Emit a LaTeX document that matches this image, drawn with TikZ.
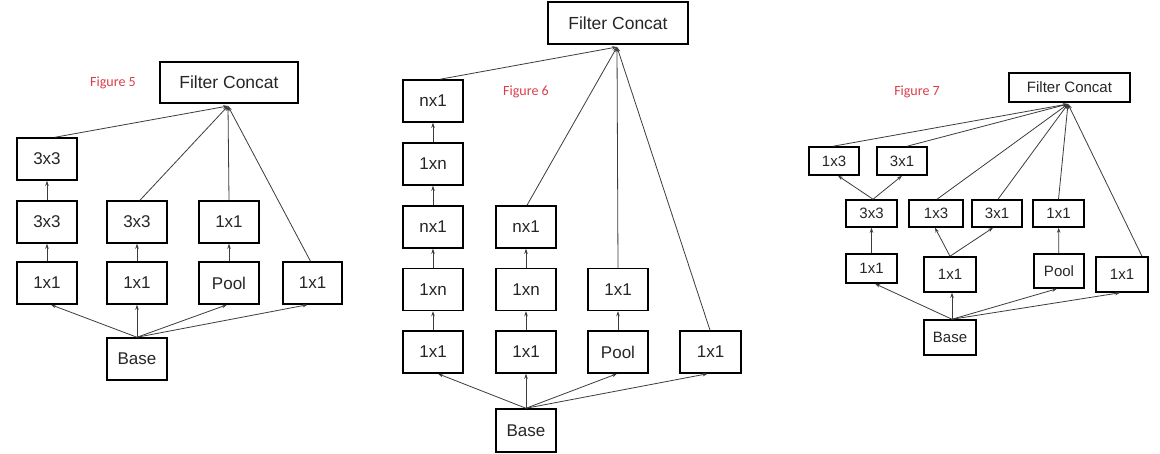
\documentclass[tikz,border=0pt]{standalone}
\usepackage{fontspec}
\setmainfont{Liberation Sans}
\newfontfamily\labfont{Carlito}
\usetikzlibrary{arrows.meta}
\definecolor{figred}{RGB}{218,62,74}
\definecolor{conn}{RGB}{60,60,60}
\tikzset{
  box/.style={draw, line width=1.5pt, inner sep=0pt, text=black!85},
  fivebox/.style={box, minimum width=60pt, minimum height=42pt, font=\fontsize{17}{20}\selectfont},
  sixbox/.style={box, minimum width=60pt, minimum height=42pt, font=\fontsize{17}{20}\selectfont},
  sevenbox/.style={box, minimum width=51pt, minimum height=28pt, font=\fontsize{15}{18}\selectfont},
  figlab/.style={text=figred, font=\labfont\fontsize{14}{16}\selectfont},
  conn/.style={draw=conn, line width=0.8pt, -{Stealth[length=5pt,width=3.5pt]}},
}
\begin{document}
\begin{tikzpicture}[x=1pt,y=-1pt]
\useasboundingbox (0,0) rectangle (1160,453);
\fill[white] (0,0) rectangle (1160,453);

% ---------------- Figure 5 ----------------
\node[figlab] (lab5) at (113,83) {Figure 5};
\node[box, minimum width=138pt, minimum height=41pt, font=\fontsize{17.5}{20}\selectfont] (fc5) at (229,82.5) {Filter Concat};
\coordinate (p5) at (228,106);
\node[fivebox] (a1) at (47,159) {3x3};
\node[fivebox] (a2) at (47,222) {3x3};
\node[fivebox] (a3) at (47,283) {1x1};
\node[fivebox] (b2) at (137,222) {3x3};
\node[fivebox] (b3) at (137,283) {1x1};
\node[fivebox] (c2) at (229,222) {1x1};
\node[fivebox] (c3) at (229,283) {Pool};
\node[fivebox, minimum width=59pt] (d3) at (312.5,283) {1x1};
\node[fivebox] (base5) at (137,359) {Base};

\draw[conn] (base5.north) -- ([xshift=4pt]a3.south);
\draw[conn] (base5.north) -- (b3.south);
\draw[conn] (base5.north) -- ([xshift=-2pt]c3.south);
\draw[conn] (base5.north) -- ([xshift=-5pt]d3.south);
\draw[conn] (a3) -- (a2);
\draw[conn] (a2) -- (a1);
\draw[conn] (b3) -- (b2);
\draw[conn] (c3) -- (c2);
\draw[conn] ([xshift=8pt]a1.north) -- (p5);
\draw[conn] ([xshift=3pt]b2.north) -- (p5);
\draw[conn] (c2.north) -- (p5);
\draw[conn] ([xshift=-2pt]d3.north) -- (p5);

% ---------------- Figure 6 ----------------
\node[figlab] (lab6) at (526,92) {Figure 6};
\node[box, minimum width=140pt, minimum height=42pt, font=\fontsize{17.5}{20}\selectfont] (fc6) at (618,23) {Filter Concat};
\coordinate (p6) at (617,47);
\node[sixbox] (e1) at (433,101) {nx1};
\node[sixbox] (e2) at (433,164) {1xn};
\node[sixbox] (e3) at (433,227) {nx1};
\node[sixbox] (e4) at (433,289.5) {1xn};
\node[sixbox] (e5) at (433,352) {1x1};
\node[sixbox] (f3) at (526,227) {nx1};
\node[sixbox] (f4) at (526,289.5) {1xn};
\node[sixbox] (f5) at (526,352) {1x1};
\node[sixbox] (g4) at (618,289.5) {1x1};
\node[sixbox] (g5) at (618,352) {Pool};
\node[sixbox, minimum width=61pt] (h5) at (710.5,352) {1x1};
\node[sixbox, minimum height=43pt] (base6) at (526,430.5) {Base};

\draw[conn] (base6.north) -- ([xshift=5pt]e5.south);
\draw[conn] (base6.north) -- (f5.south);
\draw[conn] (base6.north) -- ([xshift=-1pt]g5.south);
\draw[conn] (base6.north) -- ([xshift=-3pt]h5.south);
\draw[conn] (e5) -- (e4);
\draw[conn] (e4) -- (e3);
\draw[conn] (e3) -- (e2);
\draw[conn] (e2) -- (e1);
\draw[conn] (f5) -- (f4);
\draw[conn] (f4) -- (f3);
\draw[conn] (g5) -- (g4);
\draw[conn] ([xshift=7pt]e1.north) -- (p6);
\draw[conn] ([xshift=1pt]f3.north) -- (p6);
\draw[conn] (g4.north) -- (p6);
\draw[conn] ([xshift=-0.5pt]h5.north) -- (p6);

% ---------------- Figure 7 ----------------
\node[figlab] (lab7) at (917,92) {Figure 7};
\node[box, minimum width=121pt, minimum height=29pt, font=\fontsize{15}{18}\selectfont] (fc7) at (1069.5,87.5) {Filter Concat};
\coordinate (p7) at (1068,104);
\node[sevenbox, minimum width=50pt] (t1) at (834,161) {1x3};
\node[sevenbox, minimum width=50pt] (t2) at (902,161) {3x1};
\node[sevenbox, minimum height=27pt] (m1) at (871.5,213.5) {3x3};
\node[sevenbox, minimum width=54pt, minimum height=27pt] (m2) at (936,213.5) {1x3};
\node[sevenbox, minimum width=50pt, minimum height=27pt] (m3) at (997,213.5) {3x1};
\node[sevenbox, minimum height=27pt] (m4) at (1058.5,213.5) {1x1};
\node[sevenbox, minimum height=29pt] (n1) at (871.5,268.5) {1x1};
\node[sevenbox, minimum width=52pt, minimum height=35pt] (n2) at (950,274.5) {1x1};
\node[sevenbox, minimum width=50pt, minimum height=34pt] (n3) at (1059,271) {Pool};
\node[sevenbox, minimum width=52pt, minimum height=35pt] (n4) at (1122,274.5) {1x1};
\node[sevenbox, minimum width=52pt, minimum height=35pt] (base7) at (950,337.5) {Base};

\draw[conn] ([xshift=2pt]base7.north) -- ([xshift=3.5pt]n1.south);
\draw[conn] ([xshift=2pt]base7.north) -- ([xshift=2pt]n2.south);
\draw[conn] ([xshift=2pt]base7.north) -- ([xshift=-2pt]n3.south);
\draw[conn] ([xshift=2pt]base7.north) -- ([xshift=-2pt]n4.south);
\draw[conn] (n1) -- (m1);
\draw[conn] (n3) -- (m4);
\draw[conn] ([xshift=1.5pt]m1.north) -- ([xshift=4pt]t1.south);
\draw[conn] ([xshift=1.5pt]m1.north) -- (t2.south);
\draw[conn] (n2.north) -- ([xshift=-1pt]m2.south);
\draw[conn] (n2.north) -- ([xshift=-4pt]m3.south);
\draw[conn] ([xshift=-1pt]t1.north) -- (p7);
\draw[conn] ([xshift=5pt]t2.north) -- (p7);
\draw[conn] ([xshift=1pt]m2.north) -- (p7);
\draw[conn] ([xshift=1pt]m3.north) -- (p7);
\draw[conn] (m4.north) -- (p7);
\draw[conn] ([xshift=20pt]n4.north) -- (p7);
\end{tikzpicture}
\end{document}
